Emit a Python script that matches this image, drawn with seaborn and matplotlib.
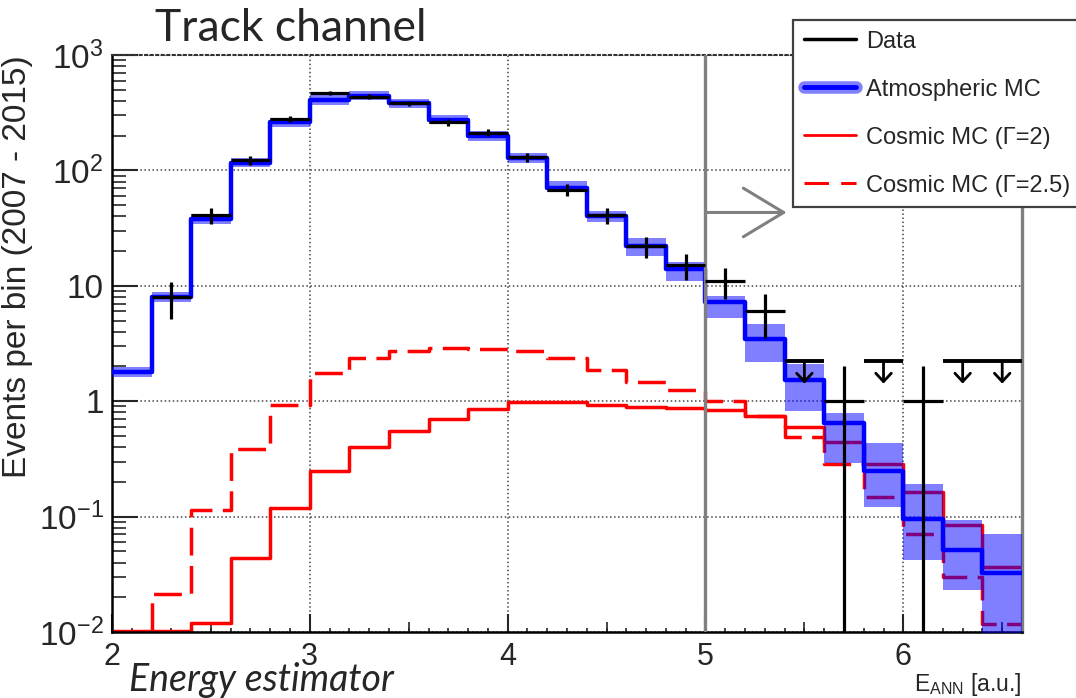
import numpy as np
import pandas as pd
import matplotlib
matplotlib.use("Agg")
import matplotlib.pyplot as plt
import seaborn as sns
from matplotlib.lines import Line2D
from matplotlib.ticker import FixedLocator, FixedFormatter, MultipleLocator, LogLocator, NullFormatter

# ---------------- data ----------------
bin_edges = [2.0, 2.2, 2.4, 2.6, 2.8, 3.0, 3.2, 3.4, 3.6, 3.8, 4.0, 4.2,
             4.4, 4.6, 4.8, 5.0, 5.2, 5.4, 5.6, 5.8, 6.0, 6.2, 6.4, 6.6]

atm_mc = [1.78, 8.0, 38, 117, 261, 409, 443, 380, 275, 200, 128, 71, 40.6,
          22, 14.0, 7.2, 3.47, 1.53, 0.645, 0.248, 0.096, 0.051, 0.0324]
atm_lo = [1.62, 7.3, 34.5, 106, 238, 372, 404, 347, 250, 181, 115, 64.5, 35.5,
          18.3, 11.1, 5.3, 2.18, 0.83, 0.29, 0.12, 0.042, 0.023, 0.008]
atm_hi = [1.97, 8.8, 42, 129, 287, 450, 487, 418, 303, 221, 142, 81.5, 44.8,
          26, 16.0, 8.2, 4.68, 2.1, 0.79, 0.43, 0.193, 0.093, 0.071]

cosmic_g2 = [0.0102, 0.0102, 0.012, 0.044, 0.119, 0.246, 0.40, 0.55, 0.705,
             0.85, 0.98, 0.99, 0.935, 0.887, 0.877, 0.844, 0.75, 0.60, 0.44,
             0.287, 0.163, 0.084, 0.0366]
cosmic_g25 = [0.005, 0.0215, 0.113, 0.382, 0.935, 1.74, 2.38, 2.71, 2.90,
              2.84, 2.72, 2.38, 1.85, 1.48, 1.24, 1.01, 0.74, 0.49, 0.287,
              0.148, 0.071, 0.030, 0.0118]

nan = np.nan
data_counts = [nan, 8, 41, 123, 277, 468, 436, 380, 261, 212, 130, 68, 41,
               22, 15, 11, 6, nan, 1, nan, 1, nan, nan]
data_upper_limits = [nan, nan, nan, nan, nan, nan, nan, nan, nan, nan, nan,
                     nan, nan, nan, nan, nan, nan, 2.22, nan, 2.22, nan, 2.22, 2.22]

ytick_values = [1e-2, 1e-1, 1, 10, 1e2, 1e3]
ytick_labels = [r"$10^{-2}$", r"$10^{-1}$", "1", "10", r"$10^{2}$", r"$10^{3}$"]
xtick_values = [2, 3, 4, 5, 6]
xtick_labels = ["2", "3", "4", "5", "6"]
half_ticks = [2.5, 3.5, 4.5, 5.5, 6.5]

legend_labels = ["Data", "Atmospheric MC", "Cosmic MC (Γ=2)", "Cosmic MC (Γ=2.5)"]

# ---------------- style ----------------
sns.set_style("white")
plt.rcParams["font.family"] = ["Liberation Sans", "DejaVu Sans"]
plt.rcParams["mathtext.fontset"] = "custom"
plt.rcParams["mathtext.rm"] = "Liberation Sans"
plt.rcParams["mathtext.it"] = "Liberation Sans:italic"
plt.rcParams["mathtext.bf"] = "Liberation Sans:bold"

edges = np.array(bin_edges)
centers = 0.5 * (edges[:-1] + edges[1:])
halfw = 0.5 * (edges[1:] - edges[:-1])

df = pd.DataFrame({
    "center": centers,
    "atm": atm_mc,
    "g2": cosmic_g2,
    "g25": cosmic_g25,
})

fig = plt.figure(figsize=(10.76, 6.98), dpi=100)
ax = fig.add_axes([112 / 1076, 1 - 632 / 698, 910 / 1076, 577 / 698])
ax.set_yscale("log")

# cosmic MC
sns.histplot(data=df, x="center", weights="g2", bins=bin_edges, element="step",
             fill=False, color="red", linewidth=2.5, ax=ax, legend=False, zorder=2)
sns.histplot(data=df, x="center", weights="g25", bins=bin_edges, element="step",
             fill=False, color="red", linewidth=2.5, linestyle=(0, (8, 3)),
             ax=ax, legend=False, zorder=2)

# atmospheric band
ax.fill_between(edges, np.append(atm_lo, atm_lo[-1]), np.append(atm_hi, atm_hi[-1]),
                step="post", color="blue", alpha=0.5, lw=0, zorder=3)
sns.histplot(data=df, x="center", weights="atm", bins=bin_edges, element="step",
             fill=False, color="blue", linewidth=3.2, ax=ax, legend=False, zorder=4)

# data with Poisson errors
dc = np.array(data_counts, dtype=float)
m = ~np.isnan(dc)
err = np.sqrt(dc[m])
err_lo = np.minimum(err, dc[m] * 0.99999)
ax.errorbar(centers[m], dc[m], xerr=halfw[m], yerr=[err_lo, err], fmt="none",
            ecolor="black", elinewidth=2.3, capsize=0, zorder=6)

# upper limits
ul = np.array(data_upper_limits, dtype=float)
mu = ~np.isnan(ul)
ax.hlines(ul[mu], edges[:-1][mu], edges[1:][mu], color="black", lw=2.8, zorder=6)
for xc, u in zip(centers[mu], ul[mu]):
    ax.annotate("", xy=(xc, u * 0.64), xytext=(xc, u),
                arrowprops=dict(arrowstyle="->,head_length=0.3,head_width=0.28",
                                color="black", lw=2.0, shrinkA=0, shrinkB=0,
                                mutation_scale=20), zorder=6)

# cut line and arrow
ax.axvline(5.0, color="#808080", lw=2.4, zorder=5)
ax.annotate("", xy=(5.41, 43.2), xytext=(5.0, 43.2),
            arrowprops=dict(arrowstyle="->,head_length=2.9,head_width=1.75",
                            color="#808080", lw=2.2, shrinkA=0, shrinkB=0,
                            mutation_scale=10), zorder=5)

# axes
ax.set_xlim(2.0, 6.6)
ax.set_ylim(0.01, 1000)
ax.yaxis.set_major_locator(FixedLocator(ytick_values))
ax.yaxis.set_major_formatter(FixedFormatter(ytick_labels))
ax.yaxis.set_minor_locator(LogLocator(base=10, subs=np.arange(2, 10)))
ax.yaxis.set_minor_formatter(NullFormatter())
ax.xaxis.set_major_locator(FixedLocator(xtick_values))
ax.xaxis.set_major_formatter(FixedFormatter(xtick_labels))
ax.xaxis.set_minor_locator(MultipleLocator(0.1))
ax.tick_params(axis="y", which="major", direction="in", length=19, width=1.5,
               labelsize=24, pad=6, left=True, right=False)
ax.tick_params(axis="y", which="minor", direction="in", length=10, width=1.2,
               left=True, right=False)
ax.tick_params(axis="x", which="major", direction="in", length=13, width=1.5,
               labelsize=22, pad=7, bottom=True, top=False)
ax.tick_params(axis="x", which="minor", direction="in", length=3, width=1.2,
               bottom=True, top=False)
sec = ax.secondary_xaxis("bottom")
sec.set_xticks(half_ticks)
sec.set_xticklabels([])
sec.tick_params(direction="in", length=7, width=1.2)
sec.spines["bottom"].set_visible(False)

ax.grid(True, which="major", ls=":", color="#444444", lw=1.1)
ax.set_axisbelow(True)

for s in ["left", "bottom"]:
    ax.spines[s].set_color("black")
    ax.spines[s].set_linewidth(1.8)
ax.spines["right"].set_color("#808080")
ax.spines["right"].set_linewidth(2.4)
ax.spines["top"].set_color("#333333")
ax.spines["top"].set_linestyle(":")
ax.spines["top"].set_linewidth(1.5)

ax.set_ylabel("Events per bin (2007 - 2015)", fontsize=24, loc="top")
ax.yaxis.set_label_coords(-0.087, 1.0)
ax.set_xlabel(r"$\mathrm{E_{ANN}}$ [a.u.]", fontsize=16.5, loc="right",
              va="baseline")
ax.xaxis.set_label_coords(1.0, -0.102)

# legend
handles = [
    Line2D([], [], color="black", lw=2.5),
    (Line2D([], [], color="#8080ff", lw=9), Line2D([], [], color="blue", lw=3.5)),
    Line2D([], [], color="red", lw=2.0),
    Line2D([], [], color="red", lw=2.2, linestyle=(0, (8, 4))),
]
leg = ax.legend(handles, legend_labels, loc="upper left",
                bbox_to_anchor=(793 / 1076, 1 - 20 / 698),
                bbox_transform=fig.transFigure, fontsize=17, frameon=True,
                fancybox=False, framealpha=1, edgecolor="#404040",
                handlelength=2.2, handletextpad=0.45, labelspacing=1.1,
                borderpad=0.45, borderaxespad=0)
leg.get_frame().set_linewidth(1.6)
leg.set_zorder(10)

# slide annotations
fig.text(155 / 1076, 1 - 41 / 698, "Track channel", fontsize=32,
         family=["Lato", "DejaVu Sans"], ha="left", va="baseline")
fig.text(129 / 1076, 1 - 691 / 698, "Energy estimator", fontsize=27,
         family=["Lato", "DejaVu Sans"], style="italic", ha="left", va="baseline")

fig.savefig("out.png", dpi=100)
